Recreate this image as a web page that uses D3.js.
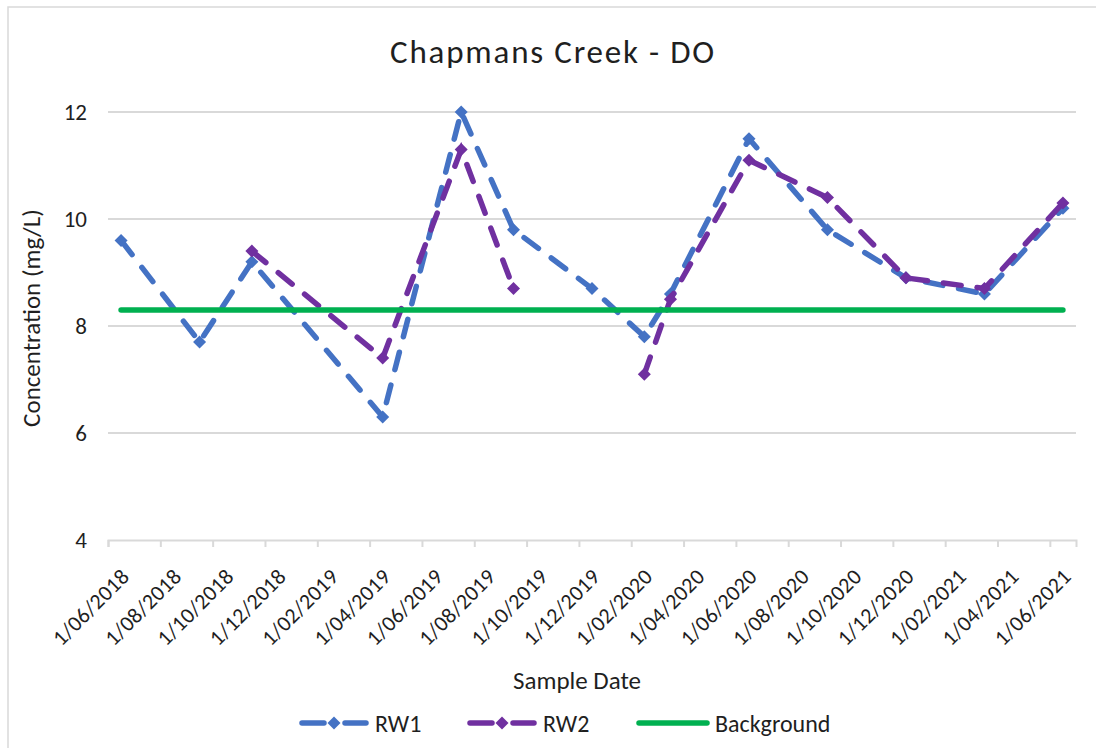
<!DOCTYPE html>
<meta charset="utf-8">
<head>
<script src="https://d3js.org/d3.v7.min.js"></script>
<style>
  body { margin: 0; background: #ffffff; }
  text { font-family: Carlito, Calibri, Lato, sans-serif; fill: #1f1f1f; }
</style>
</head>
<body>
<svg id="chart" width="1096" height="748"></svg>
<script>
// sample months (year-month) and readings
var sampleMonths = ["2018-06", "2018-09", "2018-11", "2019-04", "2019-07", "2019-09", "2019-12",
                    "2020-02", "2020-03", "2020-06", "2020-09", "2020-12", "2021-03", "2021-06"];
var rw1 = [9.6, 7.7, 9.2, 6.3, 12.0, 9.8, 8.7, 7.8, 8.6, 11.5, 9.8, 8.9, 8.6, 10.2];
var rw2 = [null, null, 9.4, 7.4, 11.3, 8.7, null, 7.1, 8.5, 11.1, 10.4, 8.9, 8.7, 10.3];
var background = [8.3, 8.3, 8.3, 8.3, 8.3, 8.3, 8.3, 8.3, 8.3, 8.3, 8.3, 8.3, 8.3, 8.3];

var tickLabels = ["1/06/2018", "1/08/2018", "1/10/2018", "1/12/2018", "1/02/2019", "1/04/2019",
                  "1/06/2019", "1/08/2019", "1/10/2019", "1/12/2019", "1/02/2020", "1/04/2020",
                  "1/06/2020", "1/08/2020", "1/10/2020", "1/12/2020", "1/02/2021", "1/04/2021",
                  "1/06/2021"];
var yTicks = [4, 6, 8, 10, 12];

var series = [
  {name: "RW1", values: rw1, color: "#4472C4", dashed: true},
  {name: "RW2", values: rw2, color: "#7030A0", dashed: true},
  {name: "Background", values: background, color: "#00B050", dashed: false}
];

// month index counted from June 2018
function monthIndex(s) {
  var p = s.split("-");
  return (+p[0] - 2018) * 12 + (+p[1] - 6);
}
function labelMonth(s) {
  var p = s.split("/");
  return (+p[2] - 2018) * 12 + (+p[1] - 6);
}

var svg = d3.select("#chart");
var gridColor = "#d9d9d9";

// chart frame
svg.append("rect")
  .attr("x", 8).attr("y", 7)
  .attr("width", 1100).attr("height", 760)
  .attr("fill", "none")
  .attr("stroke", gridColor)
  .attr("stroke-width", 1.5);

var x = d3.scaleLinear().domain([0, 37]).range([108, 1076]);
var y = d3.scaleLinear().domain([4, 12]).range([540, 112]);

// gridlines
svg.append("g")
  .selectAll("line")
  .data(yTicks.slice(1))
  .enter()
  .append("line")
  .attr("x1", x(0)).attr("x2", x(37))
  .attr("y1", d => y(d)).attr("y2", d => y(d))
  .attr("stroke", gridColor)
  .attr("stroke-width", 2);

// y axis labels
svg.append("g")
  .selectAll("text")
  .data(yTicks)
  .enter()
  .append("text")
  .attr("x", 87)
  .attr("y", d => y(d))
  .attr("dy", "0.36em")
  .attr("text-anchor", "end")
  .style("font-size", "23px")
  .text(d => d);

// x axis
var xAxis = d3.axisBottom(x)
  .tickValues(tickLabels.map(labelMonth))
  .tickSizeOuter(0)
  .tickSize(7)
  .tickFormat((d, i) => tickLabels[i]);

var gx = svg.append("g")
  .attr("transform", "translate(0," + y(4) + ")")
  .call(xAxis);
gx.select(".domain").attr("stroke", gridColor).attr("stroke-width", 2);
gx.selectAll(".tick line").attr("stroke", gridColor).attr("stroke-width", 2);
gx.selectAll(".tick text")
  .attr("x", null).attr("y", null).attr("dy", null)
  .attr("transform", "translate(22,38) rotate(-45)")
  .attr("text-anchor", "end")
  .attr("fill", "#1f1f1f")
  .style("font-family", "Carlito, Calibri, Lato, sans-serif")
  .style("letter-spacing", "0.3px")
  .style("font-size", "22px");

// lines
var line = d3.line()
  .defined(d => d.v != null)
  .x(d => x(d.m + 0.5))
  .y(d => y(d.v));

var diamond = d3.symbol().type(d3.symbolSquare).size(85);

series.forEach(function(s) {
  var pts = sampleMonths.map((m, i) => ({m: monthIndex(m), v: s.values[i]}));
  var g = svg.append("g");
  g.append("path")
    .datum(pts)
    .attr("d", line)
    .attr("fill", "none")
    .attr("stroke", s.color)
    .attr("stroke-width", 5.5)
    .attr("stroke-linecap", "round")
    .attr("stroke-dasharray", s.dashed ? "18,16" : null);
  if (s.dashed) {
    g.selectAll("path.mk")
      .data(pts.filter(d => d.v != null))
      .enter()
      .append("path")
      .attr("class", "mk")
      .attr("d", diamond)
      .attr("transform", d => "translate(" + x(d.m + 0.5) + "," + y(d.v) + ") rotate(45)")
      .attr("fill", s.color);
  }
});

// title and axis titles
svg.append("text")
  .attr("x", 553).attr("y", 63)
  .attr("text-anchor", "middle")
  .style("font-size", "33px")
  .style("letter-spacing", "1.8px")
  .text("Chapmans Creek - DO");

svg.append("text")
  .attr("transform", "translate(40,318) rotate(-90)")
  .attr("text-anchor", "middle")
  .style("font-size", "25px")
  .text("Concentration (mg/L)");

svg.append("text")
  .attr("x", 577).attr("y", 689)
  .attr("text-anchor", "middle")
  .style("font-size", "25px")
  .text("Sample Date");

// legend
var legendX = [300, 468, 637];
var legendY = 723;
series.forEach(function(s, i) {
  var g = svg.append("g").attr("transform", "translate(" + legendX[i] + "," + legendY + ")");
  if (s.dashed) {
    g.append("line").attr("x1", 2).attr("x2", 24).attr("y1", 0).attr("y2", 0)
      .attr("stroke", s.color).attr("stroke-width", 5.5).attr("stroke-linecap", "round");
    g.append("line").attr("x1", 45).attr("x2", 66).attr("y1", 0).attr("y2", 0)
      .attr("stroke", s.color).attr("stroke-width", 5.5).attr("stroke-linecap", "round");
    g.append("path").attr("d", diamond).attr("transform", "translate(34,0) rotate(45)")
      .attr("fill", s.color);
  } else {
    g.append("line").attr("x1", 2).attr("x2", 70).attr("y1", 0).attr("y2", 0)
      .attr("stroke", s.color).attr("stroke-width", 5.5).attr("stroke-linecap", "round");
  }
  g.append("text")
    .attr("x", s.dashed ? 75 : 78).attr("y", 0).attr("dy", "0.36em")
    .style("font-size", "24px")
    .text(s.name);
});
</script>
</body>
